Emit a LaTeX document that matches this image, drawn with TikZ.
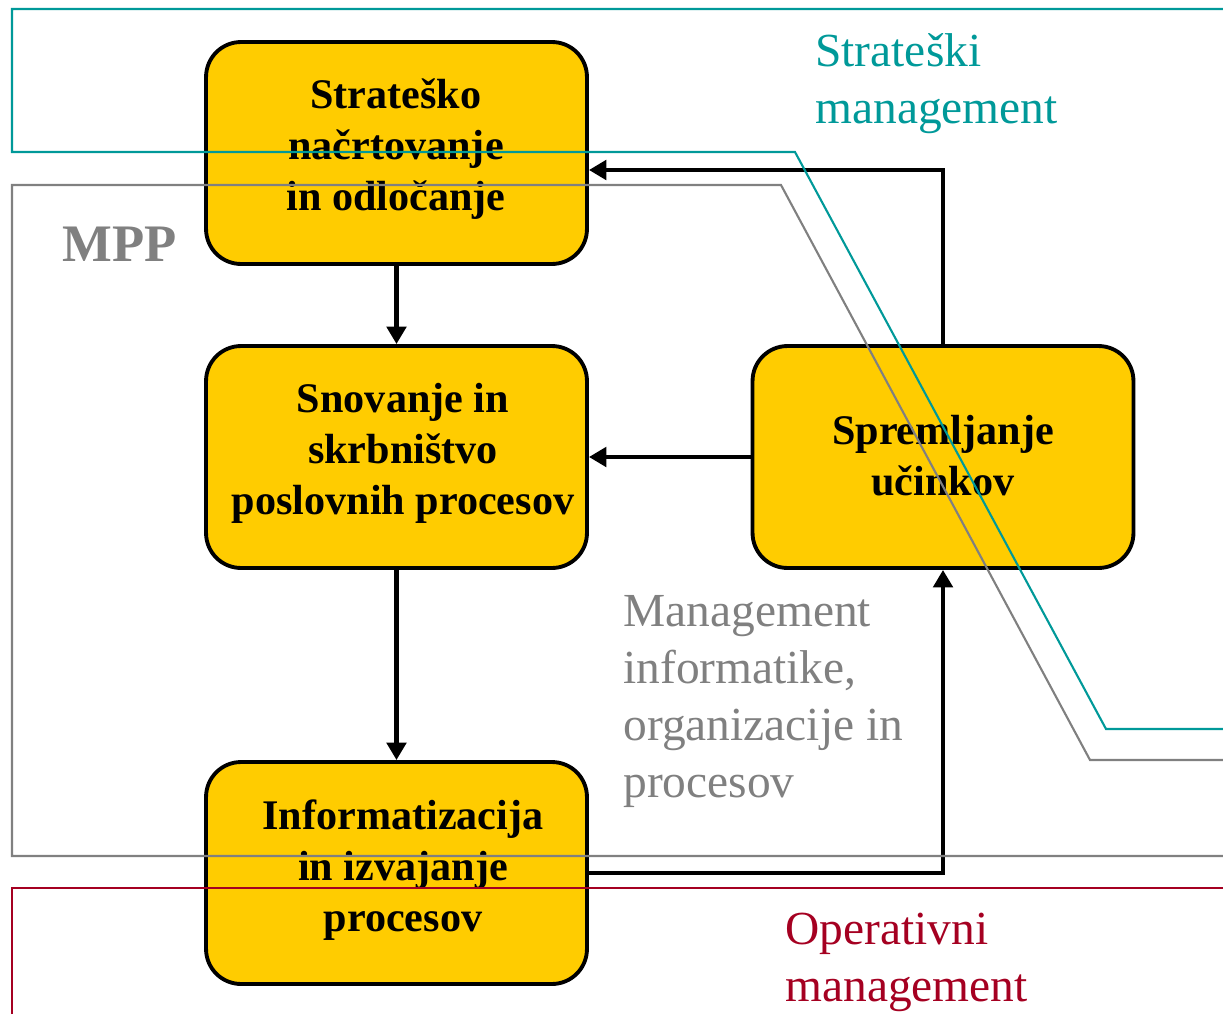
\documentclass[tikz,border=0pt]{standalone}
\usepackage{fontspec}
\setmainfont{Liberation Serif}
\usetikzlibrary{arrows.meta}
\definecolor{stratteal}{RGB}{0,153,153}
\definecolor{mppgray}{RGB}{128,128,128}
\definecolor{operred}{RGB}{165,0,33}
\definecolor{boxyellow}{RGB}{255,204,0}
\tikzset{
  procbox/.style={draw=black, line width=2.2pt, fill=boxyellow, rounded corners=0.7cm,
    minimum width=7.62cm, minimum height=4.44cm, inner sep=0pt},
  boxtext/.style={font=\bfseries\fontsize{24}{29}\selectfont, align=center, inner sep=0pt},
  flow/.style={line width=2.6pt, -{Triangle[length=10pt,width=11pt]}},
  zone/.style={line width=1.2pt},
  zonetext/.style={font=\fontsize{27}{32.5}\selectfont, align=left, inner sep=0pt, anchor=north west},
}
\begin{document}
\begin{tikzpicture}[x=0.02cm,y=-0.02cm]
\useasboundingbox (0,0) rectangle (1223,1014);

% process boxes
\node[procbox] (b1) at (396.5,153) {};
\node[procbox] (b2) at (396.5,457) {};
\node[procbox] (b3) at (396.5,873) {};
\node[procbox] (b4) at (943,457) {};

% box captions
\node[boxtext] (t1) at (396,149) {Strateško\\načrtovanje\\in odločanje};
\node[boxtext] (t2) at (403,453) {Snovanje in\\skrbništvo\\poslovnih procesov};
\node[boxtext] (t3) at (403,870) {Informatizacija\\in izvajanje\\procesov};
\node[boxtext] (t4) at (943,456) {Spremljanje\\učinkov};

% flows between processes
\draw[flow] (b1) -- (b2);
\draw[flow] (b2) -- (b3);
\draw[flow] (b4) -- (b2);
\draw[flow] (b4.north) |- ([yshift=-0.34cm]b1.east);
\draw[flow] (b3.east) -| (b4.south);

% management zones
\draw[zone, stratteal] (1223,9) -- (12,9) -- (12,152) -- (795,152) -- (1106,729) -- (1223,729);
\draw[zone, mppgray] (1223,856) -- (12,856) -- (12,185) -- (781,185) -- (1090,760) -- (1223,760);
\draw[zone, operred] (12,1014) -- (12,888) -- (1223,888);

% zone labels
\node[zonetext, text=stratteal] (strat) at (815,33) {Strateški\\management};
\node[zonetext, text=mppgray] (mgmt) at (623,595) {Management\\informatike,\\organizacije in\\procesov};
\node[zonetext, text=operred] (oper) at (785,913) {Operativni\\management};
\node[font=\bfseries\fontsize{30}{36}\selectfont, text=mppgray, inner sep=0pt, anchor=north west] (mpp) at (62,227) {MPP};
\end{tikzpicture}
\end{document}
